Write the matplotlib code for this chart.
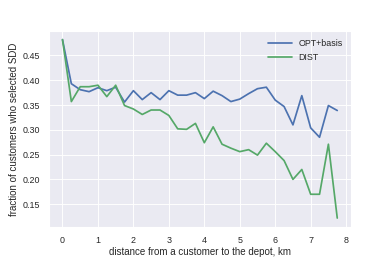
import numpy as np
import matplotlib
matplotlib.use("Agg")
import matplotlib.pyplot as plt
import seaborn as sns

distance = np.arange(32) * 0.25

opt_basis = [0.482, 0.393, 0.381, 0.377, 0.385, 0.379, 0.386, 0.356,
             0.379, 0.361, 0.375, 0.361, 0.379, 0.370, 0.370, 0.375,
             0.363, 0.378, 0.369, 0.357, 0.362, 0.373, 0.383, 0.386,
             0.360, 0.347, 0.310, 0.369, 0.304, 0.285, 0.349, 0.339]

dist = [0.482, 0.357, 0.387, 0.387, 0.390, 0.367, 0.390, 0.349,
        0.342, 0.331, 0.340, 0.340, 0.329, 0.302, 0.301, 0.313,
        0.274, 0.306, 0.271, 0.263, 0.256, 0.260, 0.249, 0.273,
        0.256, 0.238, 0.200, 0.220, 0.170, 0.170, 0.271, 0.122]


def main():
    sns.set_theme(style="darkgrid", font_scale=0.9)
    plt.rcParams["font.family"] = ["Liberation Sans", "DejaVu Sans"]
    fig, ax = plt.subplots(figsize=(6, 4), dpi=65)
    fig.subplots_adjust(left=0.125, right=0.9, top=0.88, bottom=0.127)
    ax.plot(distance, opt_basis, color="#4C72B0", lw=1.9, label="OPT+basis")
    ax.plot(distance, dist, color="#55A868", lw=1.9, label="DIST")
    ax.set_ylim(0.104, 0.499)
    ax.tick_params(axis="both", pad=4)
    ax.set_xlabel("distance from a customer to the depot, km", labelpad=2)
    ax.set_ylabel("fraction of customers who selected SDD")
    ax.legend(loc="upper right", frameon=False, handlelength=2.6)
    plt.savefig("out.png")


if __name__ == "__main__":
    main()
